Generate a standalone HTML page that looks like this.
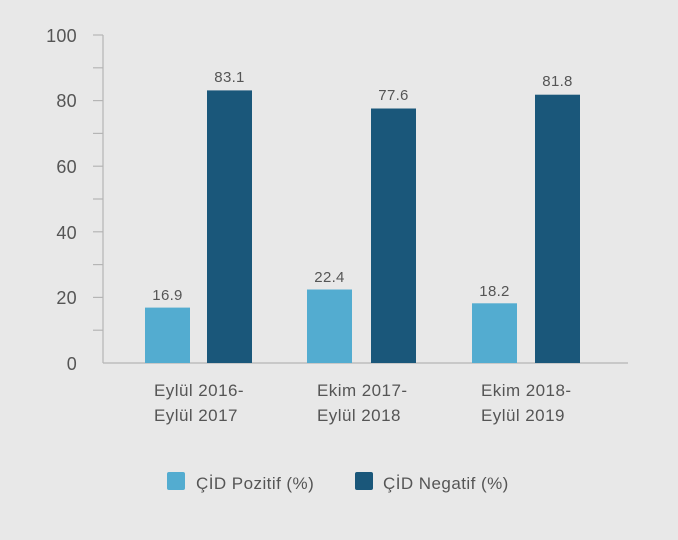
<!DOCTYPE html><html><head><style>body{margin:0;background:#e8e8e8}svg{display:block}text{font-family:"Liberation Sans",sans-serif;fill:#555}</style></head><body>
<svg width="678" height="540" xmlns="http://www.w3.org/2000/svg">
<rect width="678" height="540" fill="#e8e8e8"/>
<g stroke="#b5b5b5" stroke-width="1.2">
<line x1="103" y1="35" x2="103" y2="363"/><line x1="103" y1="363" x2="628" y2="363"/>
<line x1="93" y1="35" x2="103" y2="35"/><line x1="93" y1="67.8" x2="103" y2="67.8"/><line x1="93" y1="100.6" x2="103" y2="100.6"/><line x1="93" y1="133.4" x2="103" y2="133.4"/><line x1="93" y1="166.2" x2="103" y2="166.2"/><line x1="93" y1="199" x2="103" y2="199"/><line x1="93" y1="231.8" x2="103" y2="231.8"/><line x1="93" y1="264.6" x2="103" y2="264.6"/><line x1="93" y1="297.4" x2="103" y2="297.4"/><line x1="93" y1="330.2" x2="103" y2="330.2"/>
</g>
<g font-size="18" text-anchor="end" letter-spacing="0.3">
<text x="77" y="42">100</text><text x="77" y="107">80</text><text x="77" y="173">60</text><text x="77" y="239">40</text><text x="77" y="304">20</text><text x="77" y="370">0</text>
</g>
<g fill="#53acd0"><rect x="145" y="307.6" width="45" height="55.4"/><rect x="307" y="289.5" width="45" height="73.5"/><rect x="472" y="303.3" width="45" height="59.7"/></g>
<g fill="#1a577a"><rect x="207" y="90.4" width="45" height="272.6"/><rect x="371" y="108.5" width="45" height="254.5"/><rect x="535" y="94.7" width="45" height="268.3"/></g>
<g font-size="15" text-anchor="middle" letter-spacing="0.3">
<text x="167.5" y="300">16.9</text><text x="229.5" y="82">83.1</text>
<text x="329.5" y="282">22.4</text><text x="393.5" y="100">77.6</text>
<text x="494.5" y="296">18.2</text><text x="557.5" y="86">81.8</text>
</g>
<g font-size="17" letter-spacing="0.45">
<text x="154" y="396">Eylül 2016-</text><text x="154" y="421">Eylül 2017</text>
<text x="317" y="396">Ekim 2017-</text><text x="317" y="421">Eylül 2018</text>
<text x="481" y="396">Ekim 2018-</text><text x="481" y="421">Eylül 2019</text>
</g>
<rect x="167" y="472" width="18" height="18" rx="2" fill="#53acd0"/>
<rect x="355" y="472" width="18" height="18" rx="2" fill="#1a577a"/>
<g font-size="17" letter-spacing="0.45"><text x="196" y="489">ÇİD Pozitif (%)</text><text x="383" y="489">ÇİD Negatif (%)</text></g>
</svg></body></html>
